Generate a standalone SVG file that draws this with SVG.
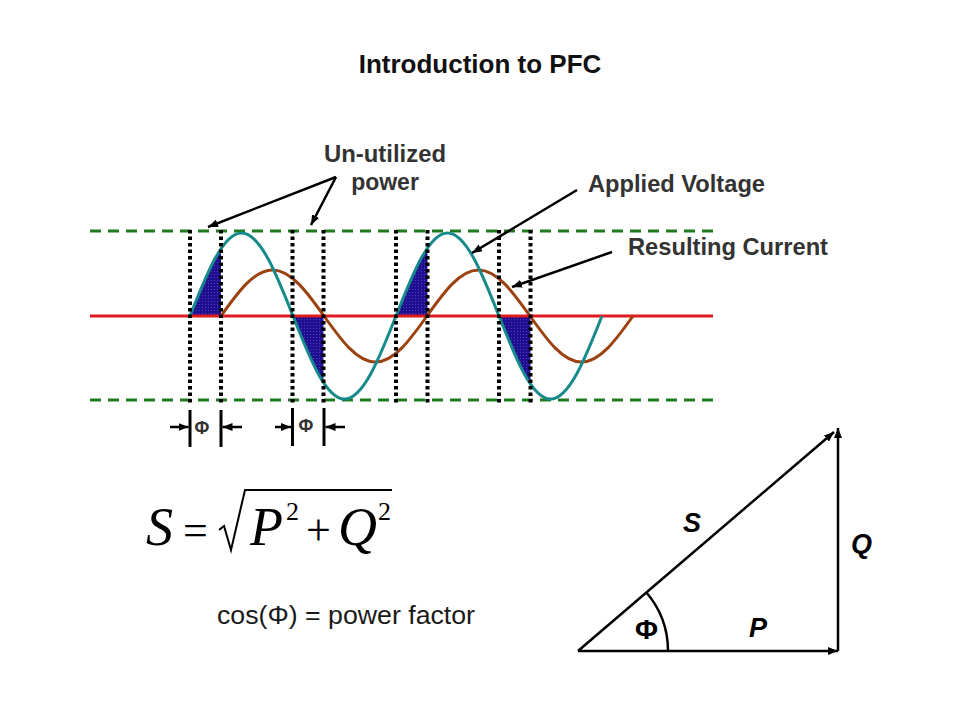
<svg xmlns="http://www.w3.org/2000/svg" width="960" height="720" viewBox="0 0 960 720">
  <style>
    .lbl { font-family: "Liberation Sans", Arial, sans-serif; font-weight: bold; fill: #333333; }
    .title { font-family: "Liberation Sans", Arial, sans-serif; font-weight: bold; fill: #111111; }
    .tri { font-family: "Liberation Sans", Arial, sans-serif; font-weight: bold; fill: #000000; }
    .math { font-family: "Liberation Serif", "Times New Roman", serif; fill: #000000; }
    .arr { stroke: #000000; stroke-width: 2.5; fill: none; }
    .dash { stroke: #1f7a1f; stroke-width: 3; stroke-dasharray: 11 7; fill: none; }
    .dot { stroke: #000000; stroke-width: 4; stroke-dasharray: 3.5 3; fill: none; }
  </style>
  <defs>
    <marker id="ah" viewBox="0 0 10 8" refX="10" refY="4" markerWidth="10" markerHeight="8" markerUnits="userSpaceOnUse" orient="auto">
      <path d="M0,0 L10,4 L0,8 z" fill="#000000"/>
    </marker>
    <pattern id="dots" width="3" height="3" patternUnits="userSpaceOnUse">
      <rect width="3" height="3" fill="#1f0f8e"/>
      <rect x="1" y="1" width="1" height="1" fill="#4a3cc4"/>
    </pattern>
    <clipPath id="phiClip">
      <rect x="190" y="220" width="31" height="190"/>
      <rect x="292.5" y="220" width="31" height="190"/>
      <rect x="396" y="220" width="31.5" height="190"/>
      <rect x="499" y="220" width="31.5" height="190"/>
    </clipPath>
  </defs>

  <text class="title" x="480" y="73" font-size="26" text-anchor="middle">Introduction to PFC</text>

  <g id="waveform">
    <line class="dash" x1="90" y1="231" x2="713" y2="231"/>
    <line class="dash" x1="90" y1="400" x2="713" y2="400"/>
    <path id="shade" clip-path="url(#phiClip)" fill="url(#dots)" d="M190,316 C206.8,273.5 222.86,233 241.5,233 C260.14,233 276.2,273.5 293,316 C309.8,358.5 325.86,399 344.5,399 C363.14,399 379.2,358.5 396,316 C412.8,273.5 428.86,233 447.5,233 C466.14,233 482.2,273.5 499,316 C515.8,358.5 531.86,399 550.5,399 C569.14,399 585.2,358.5 602,316 Z"/>
    <line x1="90" y1="316" x2="713" y2="316" stroke="#e01a1f" stroke-width="3"/>
    <path id="current" fill="none" stroke="#9c4110" stroke-width="3" d="M221,316 C237.8,292.43 253.86,270 272.5,270 C291.14,270 307.2,292.43 324,316 C340.8,339.57 356.86,362 375.5,362 C394.14,362 410.2,339.57 427,316 C443.8,292.43 459.86,270 478.5,270 C497.14,270 513.2,292.43 530,316 C546.8,339.57 562.86,362 581.5,362 C600.14,362 616.2,339.57 633,316"/>
    <path id="voltage" fill="none" stroke="#178a8c" stroke-width="3" d="M190,316 C206.8,273.5 222.86,233 241.5,233 C260.14,233 276.2,273.5 293,316 C309.8,358.5 325.86,399 344.5,399 C363.14,399 379.2,358.5 396,316 C412.8,273.5 428.86,233 447.5,233 C466.14,233 482.2,273.5 499,316 C515.8,358.5 531.86,399 550.5,399 C569.14,399 585.2,358.5 602,316"/>
    <line class="dot" x1="190" y1="230" x2="190" y2="403"/>
    <line class="dot" x1="221" y1="230" x2="221" y2="403"/>
    <line class="dot" x1="292.5" y1="230" x2="292.5" y2="403"/>
    <line class="dot" x1="323.5" y1="230" x2="323.5" y2="403"/>
    <line class="dot" x1="396" y1="230" x2="396" y2="403"/>
    <line class="dot" x1="427.5" y1="230" x2="427.5" y2="403"/>
    <line class="dot" x1="499" y1="230" x2="499" y2="403"/>
    <line class="dot" x1="530.5" y1="230" x2="530.5" y2="403"/>
  </g>

  <g id="label-unutilized">
    <text class="lbl" x="385" y="162" font-size="23" text-anchor="middle" textLength="122" lengthAdjust="spacingAndGlyphs">Un-utilized</text>
    <text class="lbl" x="385" y="190" font-size="23" text-anchor="middle">power</text>
  </g>
  <g id="label-voltage">
    <text class="lbl" x="588" y="192" font-size="23" textLength="177" lengthAdjust="spacingAndGlyphs">Applied Voltage</text>
  </g>
  <g id="label-current">
    <text class="lbl" x="628" y="255" font-size="23" textLength="200" lengthAdjust="spacingAndGlyphs">Resulting Current</text>
  </g>

  <g id="phi-markers">
    <line x1="190" y1="410" x2="190" y2="447" stroke="#000" stroke-width="3"/>
    <line x1="221" y1="410" x2="221" y2="447" stroke="#000" stroke-width="3"/>
    <text class="lbl" x="202" y="434" font-size="18" text-anchor="middle">Φ</text>
    <line x1="292.5" y1="408" x2="292.5" y2="446" stroke="#000" stroke-width="3"/>
    <line x1="324" y1="408" x2="324" y2="446" stroke="#000" stroke-width="3"/>
    <text class="lbl" x="306" y="432" font-size="18" text-anchor="middle">Φ</text>
  </g>

  <g id="connectors">
    <line class="arr" x1="336" y1="177" x2="208" y2="227" marker-end="url(#ah)"/>
    <line class="arr" x1="336" y1="177" x2="311" y2="225" marker-end="url(#ah)"/>
    <line class="arr" x1="577" y1="190" x2="472" y2="253" marker-end="url(#ah)"/>
    <line class="arr" x1="612" y1="252" x2="512" y2="287" marker-end="url(#ah)"/>
    <line class="arr" x1="170" y1="427" x2="188.5" y2="427" marker-end="url(#ah)"/>
    <line class="arr" x1="242" y1="427" x2="222.5" y2="427" marker-end="url(#ah)"/>
    <line class="arr" x1="275" y1="427" x2="291" y2="427" marker-end="url(#ah)"/>
    <line class="arr" x1="345" y1="427" x2="325.5" y2="427" marker-end="url(#ah)"/>
  </g>

  <g id="formula">
    <text class="math" x="146" y="545" font-size="54" font-style="italic">S</text>
    <text class="math" x="183" y="545" font-size="44">=</text>
    <path d="M219,530 L224,526 L231,550 L245,490 L392,490" fill="none" stroke="#000" stroke-width="2"/>
    <text class="math" x="250" y="545" font-size="54" font-style="italic">P</text>
    <text class="math" x="286" y="520" font-size="26">2</text>
    <text class="math" x="306" y="545" font-size="44">+</text>
    <text class="math" x="338" y="545" font-size="54" font-style="italic">Q</text>
    <text class="math" x="378" y="520" font-size="26">2</text>
  </g>

  <g id="pf-text">
    <text x="217" y="624" font-size="26" font-family="'Liberation Sans', Arial, sans-serif" fill="#1a1a1a" textLength="258" lengthAdjust="spacingAndGlyphs">cos(Φ) = power factor</text>
  </g>

  <g id="triangle">
    <line class="arr" x1="578" y1="651" x2="838" y2="651" marker-end="url(#ah)"/>
    <line class="arr" x1="838" y1="651" x2="838" y2="428" marker-end="url(#ah)"/>
    <line class="arr" x1="578" y1="651" x2="834" y2="432" marker-end="url(#ah)"/>
    <path d="M646.4,592.5 A90,90 0 0,1 668,651" fill="none" stroke="#000" stroke-width="2.5"/>
    <text class="tri" x="683" y="532" font-size="27" font-style="italic">S</text>
    <text class="tri" x="851" y="553" font-size="27" font-style="italic">Q</text>
    <text class="tri" x="646.5" y="639" font-size="28" text-anchor="middle">Φ</text>
    <text class="tri" x="749" y="637" font-size="27" font-style="italic">P</text>
  </g>
</svg>
